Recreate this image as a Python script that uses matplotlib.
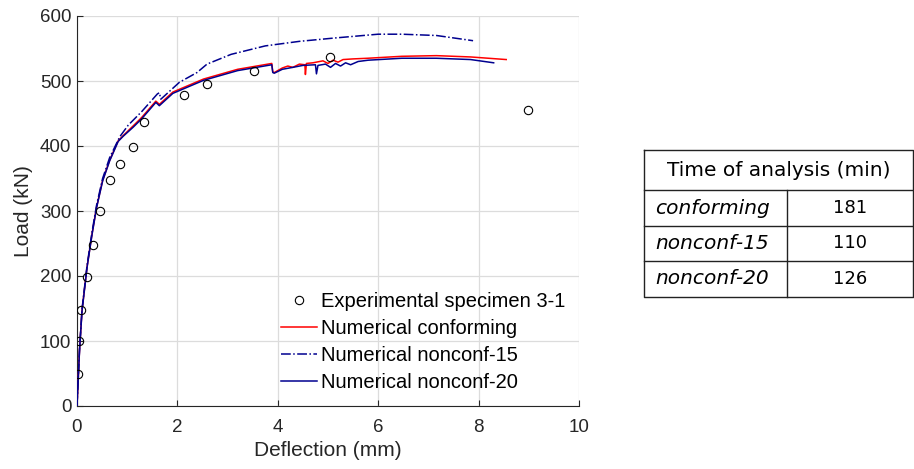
"""
Load-deflection curves: experimental specimen 3-1 vs numerical models,
with a small table of analysis times beside the plot.
"""

import numpy as np
import matplotlib
matplotlib.use('Agg')
import matplotlib.pyplot as plt

# Experimental specimen 3-1
exp_x = [0.01, 0.03, 0.08, 0.19, 0.31, 0.46, 0.65, 0.86, 1.12, 1.33, 2.13, 2.58, 3.53, 5.04, 8.98]
exp_y = [49, 100, 148, 199, 248, 300, 347, 373, 398, 437, 479, 495, 516, 537, 456]

# Numerical conforming
conf_x = [0, 0.05, 0.1, 0.2, 0.3, 0.39, 0.51, 0.65, 0.82, 0.92, 1.12, 1.29, 1.57, 1.60, 1.64,
          1.91, 2.52, 3.2, 3.88, 3.90, 3.93, 4.09, 4.2, 4.3, 4.43, 4.54, 4.55, 4.57, 4.7,
          4.9, 5.0, 5.1, 5.2, 5.3, 5.5, 5.79, 6.47, 7.16, 7.84, 8.55]
conf_y = [0, 86, 147, 214, 265, 306, 347, 378, 408, 416, 431, 444, 469, 467, 464,
          483, 503, 518, 527, 514, 513, 520, 523, 521, 526, 525, 510, 527, 528,
          531, 527, 532, 529, 533, 534, 535, 538, 539, 537, 533]

# Numerical nonconf-15
nc15_x = [0, 0.05, 0.1, 0.2, 0.3, 0.39, 0.51, 0.65, 0.85, 1.02, 1.29, 1.60, 1.64, 1.67,
          2.04, 2.39, 2.59, 3.07, 3.75, 4.43, 5.11, 6.0, 6.47, 7.16, 7.89]
nc15_y = [0, 87, 149, 216, 268, 309, 350, 382, 414, 432, 453, 480, 482, 472,
          498, 513, 526, 541, 554, 561, 566, 572, 572, 570, 562]

# Numerical nonconf-20
nc20_x = [0, 0.05, 0.1, 0.2, 0.3, 0.39, 0.51, 0.65, 0.82, 0.92, 1.12, 1.29, 1.57, 1.60, 1.64,
          1.91, 2.52, 3.2, 3.88, 3.90, 3.93, 4.09, 4.3, 4.5, 4.75, 4.77, 4.80, 4.95, 5.05,
          5.15, 5.25, 5.35, 5.45, 5.6, 5.8, 6.47, 7.16, 7.84, 8.3]
nc20_y = [0, 85, 146, 213, 264, 305, 346, 377, 407, 415, 429, 442, 467, 465, 462,
          481, 501, 516, 525, 513, 512, 518, 521, 524, 525, 511, 524, 526, 521,
          527, 523, 528, 525, 530, 532, 535, 535, 533, 528]

# Table
table_title = 'Time of analysis (min)'
table_names = ['conforming', 'nonconf-15', 'nonconf-20']
table_times = [181, 110, 126]

W, H = 914, 469
fig = plt.figure(figsize=(W / 100, H / 100), dpi=100)
ax = fig.add_axes([77 / W, 1 - 406 / H, 502 / W, 390 / H])

plt.rcParams['font.family'] = ['Liberation Sans', 'DejaVu Sans']
font = 'Liberation Sans'
txt = '#262626'

navy = '#00008F'
ax.plot(exp_x, exp_y, 'o', mfc='none', mec='black', ms=6, mew=0.8,
        label='Experimental specimen 3-1', zorder=4)
ax.plot(conf_x, conf_y, '-', color='red', lw=1.1, label='Numerical conforming', zorder=3)
ax.plot(nc15_x, nc15_y, '-.', color=navy, lw=1.1, label='Numerical nonconf-15', zorder=3)
ax.plot(nc20_x, nc20_y, '-', color=navy, lw=1.1, label='Numerical nonconf-20', zorder=3)

ax.set_xlim(0, 10)
ax.set_ylim(0, 600)
ax.set_xticks(np.arange(0, 11, 2))
ax.set_yticks(np.arange(0, 601, 100))
ax.grid(True, color='#dcdcdc', lw=0.9)
ax.set_axisbelow(True)
for s in ['top', 'right']:
    ax.spines[s].set_visible(False)
for s in ['left', 'bottom']:
    ax.spines[s].set_color(txt)
    ax.spines[s].set_linewidth(0.8)
ax.tick_params(direction='in', length=4, width=0.8, colors=txt, labelsize=13.5, pad=4)
ax.tick_params(axis='x', pad=9)
for lab in ax.get_xticklabels() + ax.get_yticklabels():
    lab.set_fontfamily(font)
ax.set_xlabel('Deflection (mm)', fontsize=15, family=font, color=txt, labelpad=4)
ax.set_ylabel('Load (kN)', fontsize=15, family=font, color=txt, labelpad=5)

leg = ax.legend(loc='lower right', frameon=False, handlelength=1.75,
                handletextpad=0.2, labelspacing=0.4, borderaxespad=0.3,
                prop={'family': font, 'size': 14.5})

# Table drawn as lines and text
tx0, tx1, tcol = 644, 913, 787
ty = [150, 190, 226, 261, 297]
tax = fig.add_axes([0, 0, 1, 1])
tax.set_xlim(0, W)
tax.set_ylim(H, 0)
tax.axis('off')
lc = '#222222'
tax.plot([tx0, tx1, tx1, tx0, tx0], [ty[0], ty[0], ty[-1], ty[-1], ty[0]], color=lc, lw=1)
for yy in ty[1:-1]:
    tax.plot([tx0, tx1], [yy, yy], color=lc, lw=1)
tax.plot([tcol, tcol], [ty[1], ty[-1]], color=lc, lw=1)
tax.text((tx0 + tx1) / 2, (ty[0] + ty[1]) / 2, table_title, ha='center', va='center',
         fontsize=14.5, family='DejaVu Sans')
for i, (name, t) in enumerate(zip(table_names, table_times)):
    yc = (ty[i + 1] + ty[i + 2]) / 2
    tax.text((tx0 + tcol) / 2 - 3, yc, name, ha='center', va='center', fontsize=14.5,
             style='italic', family='DejaVu Sans')
    tax.text((tcol + tx1) / 2, yc, str(t), ha='center', va='center', fontsize=13,
             family='DejaVu Sans')

fig.savefig('out.png', dpi=100)
